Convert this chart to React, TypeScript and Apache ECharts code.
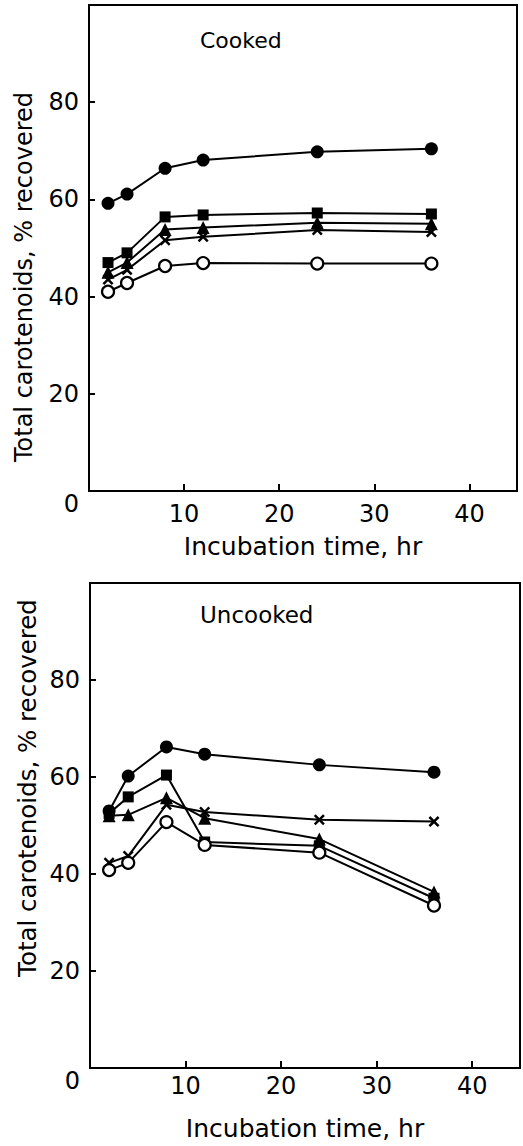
import React, { useEffect, useRef } from "react";
import * as echarts from "echarts";

const hours = [2, 4, 8, 12, 24, 36];

// Cooked
const cookedFilledCircle = [59.2, 61.1, 66.4, 68.1, 69.8, 70.4];
const cookedFilledSquare = [47, 49, 56.4, 56.8, 57.2, 57];
const cookedTriangle = [45, 47, 53.8, 54.2, 55.2, 55];
const cookedCross = [43.5, 45.5, 51.6, 52.3, 53.7, 53.3];
const cookedOpenCircle = [41, 42.8, 46.3, 46.9, 46.8, 46.8];

// Uncooked
const uncookedFilledCircle = [53, 60.2, 66.2, 64.7, 62.5, 61];
const uncookedFilledSquare = [52.5, 55.9, 60.4, 46.6, 45.8, 35];
const uncookedTriangle = [52, 52.2, 55.7, 51.5, 47.2, 36.3];
const uncookedCross = [42.3, 43.7, 54.3, 52.8, 51.2, 50.8];
const uncookedOpenCircle = [40.8, 42.3, 50.7, 46, 44.4, 33.5];

const xTickLabels = [10, 20, 30, 40];
const yTickLabels = [0, 20, 40, 60, 80];

const panelTitles = ["Cooked", "Uncooked"];
const xName = "Incubation time, hr";
const yName = "Total carotenoids, % recovered";

const FONT = "DejaVu Sans";
const CROSS =
  "path://M0,1.6 L1.6,0 L5,3.4 L8.4,0 L10,1.6 L6.6,5 L10,8.4 L8.4,10 L5,6.6 L1.6,10 L0,8.4 L3.4,5 Z";

type Marker = { symbol: string; size: number; open?: boolean };
const markers: Marker[] = [
  { symbol: "circle", size: 13 },
  { symbol: "rect", size: 11 },
  { symbol: "triangle", size: 13 },
  { symbol: CROSS, size: 11 },
  { symbol: "circle", size: 12, open: true },
];

function pair(vals: number[]) {
  return hours.map((h, i) => [h, vals[i]]);
}

export default function App() {
  const ref = useRef<HTMLDivElement>(null);
  useEffect(() => {
    document.body.style.margin = "0";
    const chart = echarts.init(ref.current!, null, { renderer: "svg" });
    const groups = [
      [cookedFilledCircle, cookedFilledSquare, cookedTriangle, cookedCross, cookedOpenCircle],
      [uncookedFilledCircle, uncookedFilledSquare, uncookedTriangle, uncookedCross, uncookedOpenCircle],
    ];
    const series: any[] = [];
    groups.forEach((g, gi) => {
      g.forEach((vals, si) => {
        const m = markers[si];
        series.push({
          type: "line",
          xAxisIndex: gi,
          yAxisIndex: gi,
          data: pair(vals),
          symbol: m.symbol,
          symbolSize: m.size,
          showAllSymbol: true,
          lineStyle: { color: "#000", width: 2 },
          itemStyle: m.open
            ? { color: "#fff", borderColor: "#000", borderWidth: 2.2 }
            : { color: "#000", borderWidth: 0 },
          z: 3,
          silent: true,
        });
      });
    });

    const xAxisCommon = (gi: number, margin: number, nameGap: number) => ({
      type: "value",
      gridIndex: gi,
      min: 0,
      max: 45,
      interval: 10,
      name: xName,
      nameLocation: "middle",
      nameGap,
      nameTextStyle: { fontFamily: FONT, fontSize: 25, color: "#000" },
      axisLine: { show: true, lineStyle: { color: "#000", width: 2 } },
      axisTick: { show: true, inside: true, length: 7, lineStyle: { color: "#000", width: 2 } },
      splitLine: { show: false },
      axisLabel: {
        margin,
        fontFamily: FONT,
        fontSize: 24,
        color: "#000",
        formatter: (v: number) => (xTickLabels.includes(v) ? String(v) : ""),
      },
    });
    const yAxisCommon = (gi: number) => ({
      type: "value",
      gridIndex: gi,
      min: 0,
      max: 100,
      interval: 20,
      axisLine: { show: true, lineStyle: { color: "#000", width: 2 } },
      axisTick: { show: true, inside: true, length: 6, lineStyle: { color: "#000", width: 2 } },
      splitLine: { show: false },
      axisLabel: {
        margin: 10,
        fontFamily: FONT,
        fontSize: 24,
        color: "#000",
        formatter: (v: number) =>
          v === 0 ? "{z|0}" : yTickLabels.includes(v) ? String(v) : "",
        rich: { z: { fontFamily: FONT, fontSize: 24, color: "#000", padding: [26, 0, 0, 0] } },
      },
    });

    chart.setOption({
      animation: false,
      backgroundColor: "#fff",
      grid: [
        { left: 89, top: 5, width: 428, height: 486, show: true, borderColor: "#000", borderWidth: 2 },
        { left: 90, top: 583, width: 433, height: 485, show: true, borderColor: "#000", borderWidth: 2 },
      ],
      xAxis: [xAxisCommon(0, 11, 43), xAxisCommon(1, 6, 48)],
      yAxis: [yAxisCommon(0), yAxisCommon(1)],
      series,
      graphic: [
        {
          type: "text",
          left: 200,
          top: 29,
          style: { text: panelTitles[0], fontFamily: FONT, fontSize: 22, fill: "#000" },
        },
        {
          type: "text",
          left: 200,
          top: 603,
          style: { text: panelTitles[1], fontFamily: FONT, fontSize: 23, fill: "#000" },
        },
        {
          type: "text",
          x: 24,
          y: 277,
          rotation: Math.PI / 2,
          style: {
            text: yName,
            fontFamily: FONT,
            fontSize: 24,
            fill: "#000",
            align: "center",
            verticalAlign: "middle",
          },
        },
        {
          type: "text",
          x: 27,
          y: 788,
          rotation: Math.PI / 2,
          style: {
            text: yName,
            fontFamily: FONT,
            fontSize: 24.5,
            fill: "#000",
            align: "center",
            verticalAlign: "middle",
          },
        },
      ],
    });
    return () => chart.dispose();
  }, []);
  return <div ref={ref} style={{ width: 523, height: 1146 }} />;
}
